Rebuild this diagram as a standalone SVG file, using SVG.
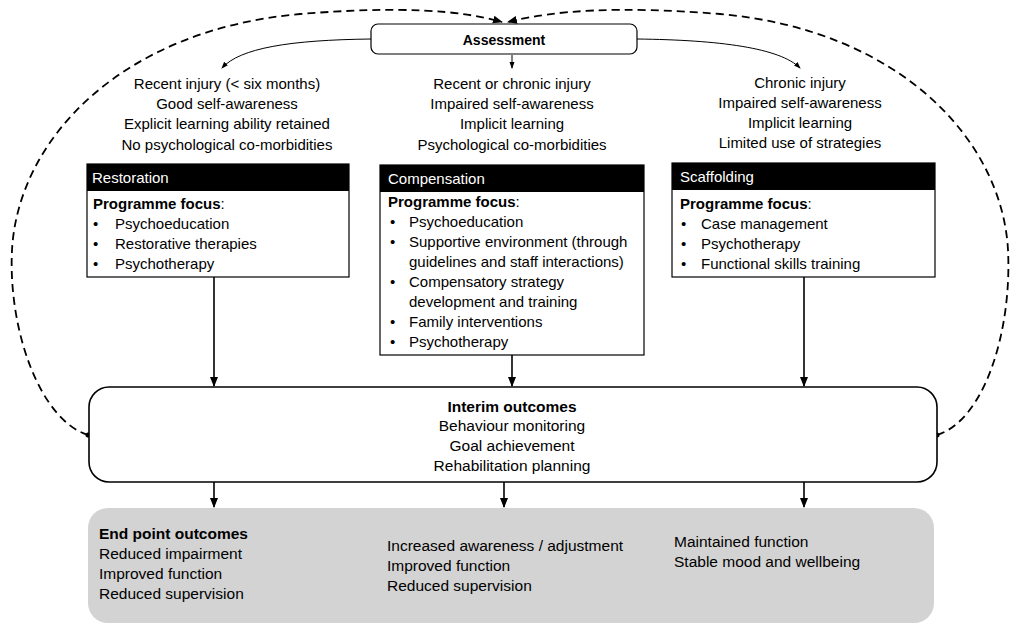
<svg xmlns="http://www.w3.org/2000/svg" width="1021" height="628" viewBox="0 0 1021 628">
<defs>
<marker id="ah" markerWidth="10" markerHeight="10" refX="9" refY="5" orient="auto" markerUnits="userSpaceOnUse"><path d="M0,1 L10,5 L0,9 Z" fill="#000"/></marker>
<marker id="ahs" markerWidth="7" markerHeight="7" refX="6" refY="3.5" orient="auto" markerUnits="userSpaceOnUse"><path d="M0,1 L7,3.5 L0,6 Z" fill="#000"/></marker>
<marker id="dot" markerWidth="6" markerHeight="6" refX="3" refY="3" orient="auto" markerUnits="userSpaceOnUse"><circle cx="3" cy="3" r="2.5" fill="#000"/></marker>
</defs>
<style>
text{font-family:"Liberation Sans",Arial,sans-serif;font-size:15px;fill:#000}
.c{text-anchor:middle}
.b{font-weight:bold}
.h{fill:#fff}
.box{fill:#fff;stroke:#000;stroke-width:1.2}
.hd{fill:#000}
.ln{fill:none;stroke:#000;stroke-width:1.6}
.thin{fill:none;stroke:#000;stroke-width:1}
.dash{fill:none;stroke:#000;stroke-width:1.8;stroke-dasharray:8 5}
.o{font-size:15.5px}
</style>
<rect width="1021" height="628" fill="#fff"/>
<g id="connectors">
<path class="dash" d="M88,435 C40,420 8,330 12,250 C18,140 120,30 300,14 C400,6 460,10 502,22" marker-start="url(#dot)" marker-end="url(#ah)"/>
<path class="dash" d="M937,435 C985,420 1012,330 1008,250 C1002,140 900,30 720,14 C620,6 555,10 508,22" marker-start="url(#dot)" marker-end="url(#ah)"/>
<path class="thin" d="M371,39 C290,40 240,48 222,68" marker-end="url(#ahs)"/>
<path class="thin" d="M637,39 C720,40 780,48 800,68" marker-end="url(#ahs)"/>
<path class="thin" d="M512,55 L512,68" marker-end="url(#ahs)"/>
<path class="ln" d="M214,277 L214,386" marker-end="url(#ah)"/>
<path class="ln" d="M512,355 L512,386" marker-end="url(#ah)"/>
<path class="ln" d="M804,277 L804,386" marker-end="url(#ah)"/>
<path class="ln" d="M214,482 L214,507" marker-end="url(#ah)"/>
<path class="ln" d="M504,482 L504,507" marker-end="url(#ah)"/>
<path class="ln" d="M804,482 L804,507" marker-end="url(#ah)"/>
</g>
<g id="assessment">
<rect class="box" x="371" y="24" width="266" height="30" rx="7"/>
<text class="c b" x="504" y="45" style="font-size:14px">Assessment</text>
</g>
<g id="criteria-restoration">
<text class="c" x="227" y="89">Recent injury (&lt; six months)</text>
<text class="c" x="227" y="109">Good self-awareness</text>
<text class="c" x="227" y="129">Explicit learning ability retained</text>
<text class="c" x="227" y="150">No psychological co-morbidities</text>
</g>
<g id="criteria-compensation">
<text class="c" x="512" y="89">Recent or chronic injury</text>
<text class="c" x="512" y="109">Impaired self-awareness</text>
<text class="c" x="512" y="129">Implicit learning</text>
<text class="c" x="512" y="150">Psychological co-morbidities</text>
</g>
<g id="criteria-scaffolding">
<text class="c" x="800" y="88">Chronic injury</text>
<text class="c" x="800" y="108">Impaired self-awareness</text>
<text class="c" x="800" y="128">Implicit learning</text>
<text class="c" x="800" y="148">Limited use of strategies</text>
</g>
<g id="restoration">
<rect class="box" x="87" y="164" width="262" height="113"/>
<rect class="hd" x="87" y="164" width="262" height="27"/>
<text class="h" x="92" y="183">Restoration</text>
<text x="93" y="209"><tspan class="b">Programme focus</tspan>:</text>
<text x="93" y="229">•</text><text x="115" y="229">Psychoeducation</text>
<text x="93" y="249">•</text><text x="115" y="249">Restorative therapies</text>
<text x="93" y="269">•</text><text x="115" y="269">Psychotherapy</text>
</g>
<g id="compensation">
<rect class="box" x="380" y="165" width="264" height="190"/>
<rect class="hd" x="380" y="165" width="264" height="27"/>
<text class="h" x="388" y="184">Compensation</text>
<text x="388" y="207"><tspan class="b">Programme focus</tspan>:</text>
<text x="390" y="227">•</text><text x="409" y="227">Psychoeducation</text>
<text x="390" y="247">•</text><text x="409" y="247">Supportive environment (through</text>
<text x="409" y="267">guidelines and staff interactions)</text>
<text x="390" y="287">•</text><text x="409" y="287">Compensatory strategy</text>
<text x="409" y="307">development and training</text>
<text x="390" y="327">•</text><text x="409" y="327">Family interventions</text>
<text x="390" y="347">•</text><text x="409" y="347">Psychotherapy</text>
</g>
<g id="scaffolding">
<rect class="box" x="672" y="163" width="263" height="114"/>
<rect class="hd" x="672" y="163" width="263" height="27"/>
<text class="h" x="680" y="182">Scaffolding</text>
<text x="680" y="209"><tspan class="b">Programme focus</tspan>:</text>
<text x="681" y="229">•</text><text x="701" y="229">Case management</text>
<text x="681" y="249">•</text><text x="701" y="249">Psychotherapy</text>
<text x="681" y="269">•</text><text x="701" y="269">Functional skills training</text>
</g>
<g id="interim">
<rect class="box" x="89" y="387" width="848" height="95" rx="20" style="stroke-width:1.6"/>
<text class="c b o" x="512" y="412">Interim outcomes</text>
<text class="c o" x="512" y="431">Behaviour monitoring</text>
<text class="c o" x="512" y="451">Goal achievement</text>
<text class="c o" x="512" y="471">Rehabilitation planning</text>
</g>
<g id="endpoint">
<rect x="88" y="508" width="846" height="115" rx="20" fill="#d3d3d3"/>
<text class="b o" x="99" y="539">End point outcomes</text>
<text class="o" x="99" y="559">Reduced impairment</text>
<text class="o" x="99" y="579">Improved function</text>
<text class="o" x="99" y="599">Reduced supervision</text>
<text class="o" x="387" y="551">Increased awareness / adjustment</text>
<text class="o" x="387" y="571">Improved function</text>
<text class="o" x="387" y="591">Reduced supervision</text>
<text class="o" x="674" y="547">Maintained function</text>
<text class="o" x="674" y="567">Stable mood and wellbeing</text>
</g>
</svg>
